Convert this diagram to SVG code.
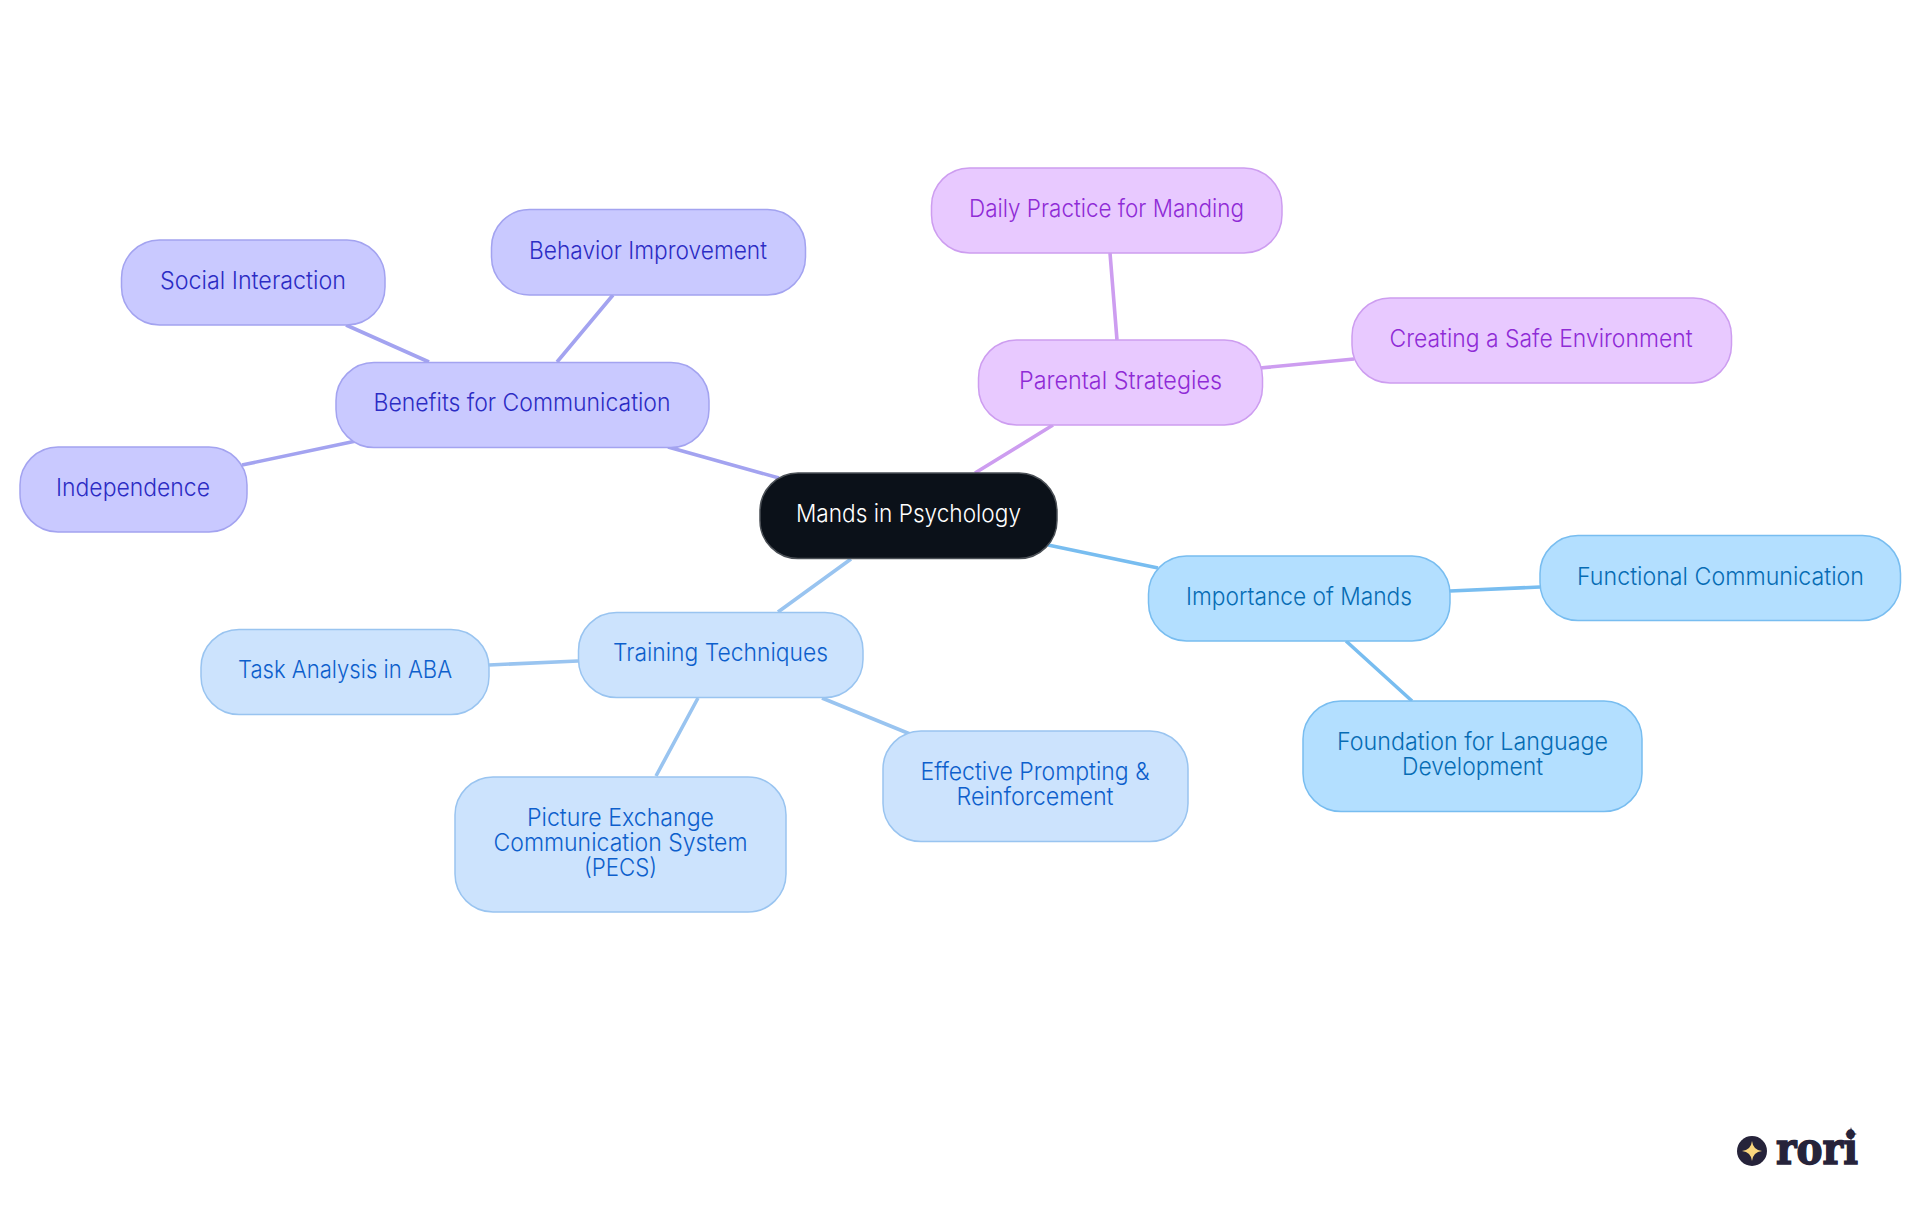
<svg xmlns="http://www.w3.org/2000/svg" width="1920" height="1215" viewBox="0 0 1920 1215">
<style>
text{font-family:"Inter","Noto Sans","Liberation Sans",sans-serif;font-size:24px;text-anchor:middle;font-weight:350}
.n rect{stroke-width:1.5}
.e{fill:none;stroke-width:3.6}
.v rect{fill:#c9c9ff;stroke:#a3a3f0}.v text{fill:#2c2cc4}
.p rect{fill:#e8c9ff;stroke:#cd9df0}.p text{fill:#8f2bd6}
.b rect{fill:#b3dfff;stroke:#78bdf0}.b text{fill:#066cb4}
.l rect{fill:#cce3fd;stroke:#99c4f0}.l text{fill:#0d5fcc}
</style>
<rect width="1920" height="1215" fill="#fff"/>
<g id="connectors">
<path class="e" stroke="#a3a3f0" d="M779 478L668 447M557 362L613 295M429 362L346 325M356 441L242 465"/>
<path class="e" stroke="#cd9df0" d="M975 473L1053 425M1117 340L1110 253M1260 368L1354 359"/>
<path class="e" stroke="#78bdf0" d="M1048 545L1158 568M1450 591L1540 587M1346 641L1412 701"/>
<path class="e" stroke="#99c4f0" d="M851 559L778 612M578 661L489 665M698 698L656 776M822 698L910 734"/>
</g>
<g id="root" class="n"><rect x="760" y="473" width="297" height="85.5" rx="38" fill="#0b1119" stroke="#4a4f55"/><text x="908.5" y="522" fill="#fff" textLength="225" lengthAdjust="spacingAndGlyphs">Mands in Psychology</text></g>
<g id="benefits" class="n v"><rect x="336" y="362.5" width="373" height="85" rx="38"/><text x="522" y="411" textLength="297" lengthAdjust="spacingAndGlyphs">Benefits for Communication</text></g>
<g id="behavior" class="n v"><rect x="491.5" y="209.5" width="314" height="85.5" rx="38"/><text x="648" y="259" textLength="238" lengthAdjust="spacingAndGlyphs">Behavior Improvement</text></g>
<g id="social" class="n v"><rect x="121.5" y="240" width="263.5" height="85" rx="38"/><text x="253" y="289" textLength="186" lengthAdjust="spacingAndGlyphs">Social Interaction</text></g>
<g id="independence" class="n v"><rect x="20" y="447" width="227" height="85" rx="38"/><text x="133" y="495.5" textLength="154" lengthAdjust="spacingAndGlyphs">Independence</text></g>
<g id="parental" class="n p"><rect x="978.5" y="340" width="284" height="85" rx="38"/><text x="1120.5" y="389" textLength="203" lengthAdjust="spacingAndGlyphs">Parental Strategies</text></g>
<g id="daily" class="n p"><rect x="931.5" y="168" width="350.5" height="85" rx="38"/><text x="1106.5" y="216.5" textLength="275" lengthAdjust="spacingAndGlyphs">Daily Practice for Manding</text></g>
<g id="safe" class="n p"><rect x="1352" y="298" width="379.5" height="85" rx="38"/><text x="1541" y="347" textLength="303" lengthAdjust="spacingAndGlyphs">Creating a Safe Environment</text></g>
<g id="importance" class="n b"><rect x="1148.5" y="556" width="301.5" height="85" rx="38"/><text x="1299" y="605" textLength="226" lengthAdjust="spacingAndGlyphs">Importance of Mands</text></g>
<g id="functional" class="n b"><rect x="1540" y="535.5" width="360.5" height="85" rx="38"/><text x="1720.5" y="585" textLength="287" lengthAdjust="spacingAndGlyphs">Functional Communication</text></g>
<g id="foundation" class="n b"><rect x="1303" y="701" width="339" height="110.5" rx="38"/><text x="1472.5" y="750" textLength="271" lengthAdjust="spacingAndGlyphs">Foundation for Language</text><text x="1472.5" y="775" textLength="141" lengthAdjust="spacingAndGlyphs">Development</text></g>
<g id="training" class="n l"><rect x="578.5" y="612.5" width="284.5" height="85" rx="38"/><text x="720.5" y="661" textLength="215" lengthAdjust="spacingAndGlyphs">Training Techniques</text></g>
<g id="task" class="n l"><rect x="201" y="629.5" width="288" height="85" rx="38"/><text x="345" y="678" textLength="214" lengthAdjust="spacingAndGlyphs">Task Analysis in ABA</text></g>
<g id="pecs" class="n l"><rect x="455" y="777" width="331" height="135" rx="38"/><text x="620.5" y="825.5" textLength="187" lengthAdjust="spacingAndGlyphs">Picture Exchange</text><text x="620.5" y="851" textLength="254" lengthAdjust="spacingAndGlyphs">Communication System</text><text x="620.5" y="876" textLength="73" lengthAdjust="spacingAndGlyphs">(PECS)</text></g>
<g id="effective" class="n l"><rect x="883" y="731" width="305" height="110.5" rx="38"/><text x="1035" y="780" textLength="229" lengthAdjust="spacingAndGlyphs">Effective Prompting &amp;</text><text x="1035" y="805" textLength="157" lengthAdjust="spacingAndGlyphs">Reinforcement</text></g>
<g id="logo">
<circle cx="1752" cy="1151" r="15" fill="#26233a"/>
<path d="M1752 1141Q1753 1150 1762 1151Q1753 1152 1752 1161Q1751 1152 1742 1151Q1751 1150 1752 1141Z" fill="#fbd77e"/>
<text x="1817" y="1164" textLength="82" lengthAdjust="spacingAndGlyphs" style="font-family:'DejaVu Serif','Liberation Serif',serif;font-weight:700;font-size:44px" fill="#26233a" stroke="#26233a" stroke-width="1.5">rori</text>
<path d="M1851 1127Q1852 1133 1857 1134Q1852 1135 1851 1141Q1850 1135 1845 1134Q1850 1133 1851 1127Z" fill="#26233a"/>
</g>
</svg>
